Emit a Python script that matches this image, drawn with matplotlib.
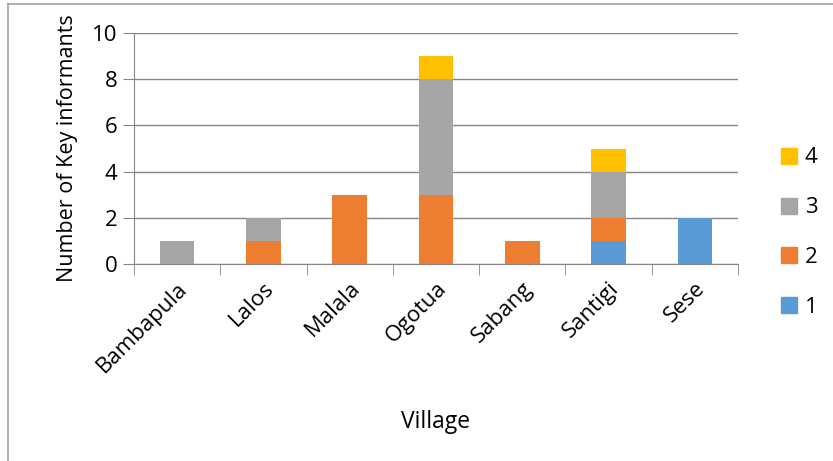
import matplotlib.pyplot as plt
import numpy as np
from matplotlib.lines import Line2D

villages = ['Bambapula', 'Lalos', 'Malala', 'Ogotua', 'Sabang', 'Santigi', 'Sese']
s1 = [0, 0, 0, 0, 0, 1, 2]
s2 = [0, 1, 3, 3, 1, 1, 0]
s3 = [1, 1, 0, 5, 0, 2, 0]
s4 = [0, 0, 0, 1, 0, 1, 0]
series = [('1', s1, '#5B9BD5'), ('2', s2, '#ED7D31'), ('3', s3, '#A5A5A5'), ('4', s4, '#FFC000')]

plt.rcParams['font.family'] = ['Open Sans', 'DejaVu Sans']
axis_col = '#868686'

fig = plt.figure(figsize=(8.33, 4.61), dpi=100)
ax = fig.add_axes([0.1609, 0.4273, 0.725, 0.501])

x = np.arange(len(villages))
bottom = np.zeros(len(villages))
handles = []
for name, vals, col in series:
    ax.bar(x, vals, width=0.4, bottom=bottom, color=col, zorder=3)
    bottom += np.array(vals)
    handles.append(Line2D([], [], marker='s', linestyle='none', markersize=11,
                          markerfacecolor=col, markeredgecolor=col, label=name))

ax.set_xlim(-0.5, len(villages) - 0.5)
ax.set_ylim(0, 10)
ax.set_yticks(range(0, 11, 2))
ax.yaxis.grid(True, color=axis_col, linewidth=1, zorder=0)
for s in ['top', 'right']:
    ax.spines[s].set_visible(False)
for s in ['left', 'bottom']:
    ax.spines[s].set_color(axis_col)

ax.set_xticks(x)
ax.set_xticklabels(villages, rotation=45, ha='right', rotation_mode='anchor', fontsize=16)
ax.tick_params(axis='x', which='major', length=0, pad=10)
ax.set_xticks(np.arange(-0.5, len(villages)), minor=True)
ax.tick_params(axis='x', which='minor', length=8, color=axis_col)
ax.tick_params(axis='y', length=8, color=axis_col, labelsize=16, pad=4)

ax.set_xlabel('Village', fontsize=16.5, labelpad=24)
ax.set_ylabel('Number of Key informants', fontsize=15.5, labelpad=10)

leg = fig.legend(handles=handles[::-1], loc='center left', bbox_to_anchor=(0.91, 0.495),
                 frameon=False, fontsize=16, labelspacing=1.3, handletextpad=0.2,
                 handlelength=1.0)

# outer frame (only top and left edges visible)
fig.add_artist(Line2D([0.0096, 1.0], [0.991, 0.991], color='#A0A0A0', linewidth=1.2))
fig.add_artist(Line2D([0.0096, 0.0096], [0.0, 0.991], color='#A0A0A0', linewidth=1.2))

fig.savefig('out.png', dpi=100)
